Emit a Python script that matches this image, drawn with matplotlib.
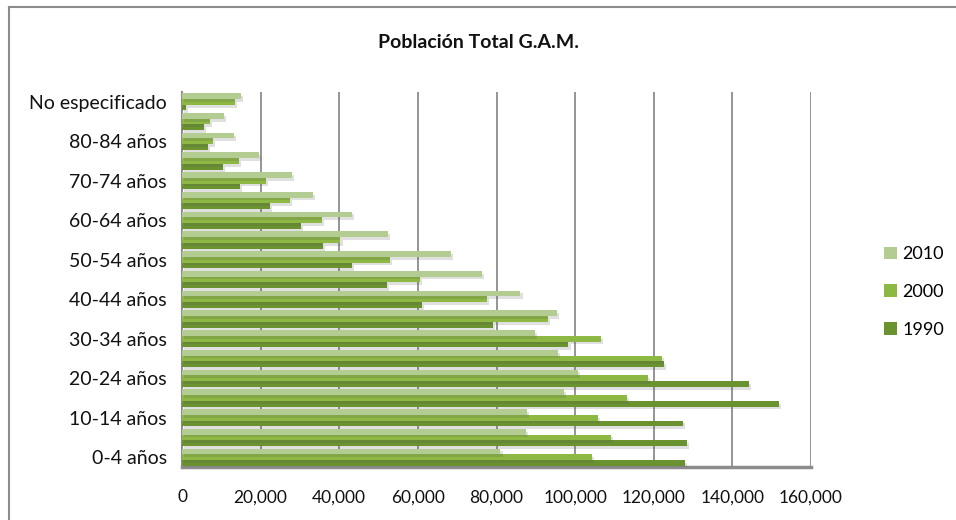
import matplotlib.pyplot as plt
import matplotlib.patheffects as pe
from matplotlib.lines import Line2D
from matplotlib.patches import Patch
from matplotlib.ticker import FuncFormatter
import numpy as np

plt.rcParams['font.family'] = ['Lato', 'DejaVu Sans']

# Grupos de edad (de abajo hacia arriba)
grupos = ['0-4 años', '5-9 años', '10-14 años', '15-19 años', '20-24 años',
          '25-29 años', '30-34 años', '35-39 años', '40-44 años', '45-49 años',
          '50-54 años', '55-59 años', '60-64 años', '65-69 años', '70-74 años',
          '75-79 años', '80-84 años', '85 años y más', 'No especificado']

pob_1990 = [127900, 128400, 127500, 151900, 144200, 122600, 98300, 79200, 61100,
            52100, 43200, 35800, 30300, 22300, 14700, 10400, 6500, 5600, 1000]
pob_2000 = [104200, 109200, 105700, 113300, 118600, 122100, 106500, 93100, 77500,
            60500, 52800, 40300, 35600, 27500, 21300, 14500, 7800, 7200, 13500]
pob_2010 = [81000, 87400, 87800, 97200, 100800, 95700, 89800, 95300, 86100,
            76400, 68500, 52400, 43300, 33200, 28000, 19600, 13300, 10700, 15000]

anios = ['1990', '2000', '2010']
colores = ['#6a9330', '#8cb843', '#b3cc92']

fig = plt.figure(figsize=(9.56, 5.20), dpi=100)
ax = fig.add_axes([182 / 956, 1 - 467 / 520, 629 / 956, 375 / 520])

y = np.arange(len(grupos))
h = 0.29
sombra = [pe.SimplePatchShadow(offset=(1.5, -2), alpha=0.18, shadow_rgbFace='#555555'), pe.Normal()]
for k, (serie, col) in enumerate(zip([pob_1990, pob_2000, pob_2010], colores)):
    barras = ax.barh(y + (k - 1) * h, serie, height=h, color=col, zorder=3)
    for b in barras:
        b.set_path_effects(sombra)

ax.set_xlim(0, 160000)
ax.set_ylim(-0.5, len(grupos) - 0.5)
ax.set_xticks(np.arange(0, 160001, 20000))
ax.xaxis.set_major_formatter(FuncFormatter(lambda v, p: f'{int(v):,}'))
ax.set_yticks(y[::2])
ax.set_yticklabels(grupos[::2])
ax.tick_params(axis='both', length=0, colors='#111111')
ax.tick_params(axis='x', pad=16, labelsize=12.5)
ax.tick_params(axis='y', pad=11, labelsize=14)
ax.grid(axis='x', color='#8c8c8c', lw=1.3, zorder=0)
ax.set_axisbelow(True)
for s in ['top', 'right']:
    ax.spines[s].set_visible(False)
ax.spines['left'].set_color('#8c8c8c')
ax.spines['left'].set_linewidth(1.5)
ax.spines['bottom'].set_color('#8c8c8c')
ax.spines['bottom'].set_linewidth(2.5)

fig.text(0.5, 1 - 43 / 520, 'Población Total G.A.M.', ha='center', va='center',
         fontsize=14, fontweight='bold', color='#111111')

handles = [Patch(facecolor=colores[2]), Patch(facecolor=colores[1]), Patch(facecolor=colores[0])]
fig.legend(handles, ['2010', '2000', '1990'], loc='center left',
           bbox_to_anchor=(875 / 956, 1 - 292 / 520), frameon=False,
           fontsize=13, labelspacing=1.2, handlelength=0.7, handleheight=0.7,
           handletextpad=0.3, borderpad=0)

# marco del área del gráfico
fig.add_artist(Line2D([9 / 956, 9 / 956], [0, 1 - 7 / 520], color='#8c8c8c', lw=1.5))
fig.add_artist(Line2D([9 / 956, 1], [1 - 7 / 520, 1 - 7 / 520], color='#8c8c8c', lw=1.5))

fig.savefig('out.png', dpi=100)
